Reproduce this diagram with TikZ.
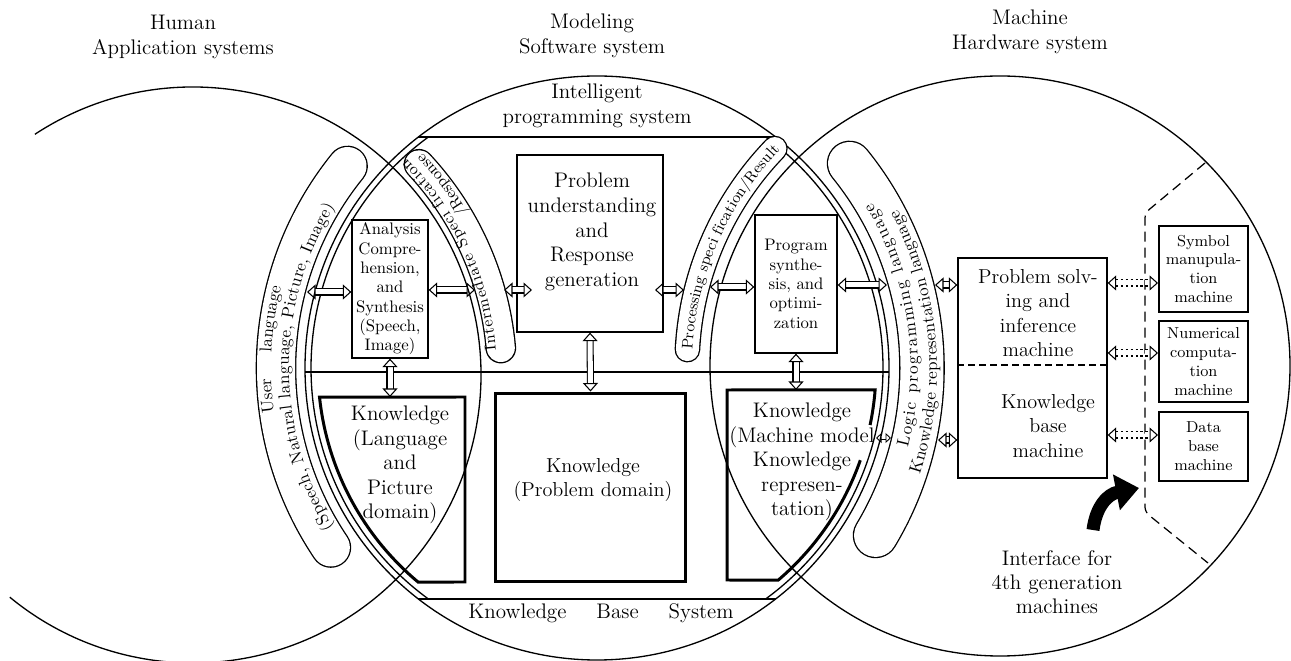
\documentclass[tikz,border=0pt]{standalone}
\usetikzlibrary{positioning,calc,arrows.meta,decorations.text}

\newcommand{\pilltxt}{\fontsize{9.8}{12}\selectfont}
\newcommand{\pillsmall}{\fontsize{9}{11}\selectfont}
\newcommand{\pilltiny}{\fontsize{8.8}{10}\selectfont}

\begin{document}
\begin{tikzpicture}[x=0.02cm, y=-0.02cm, line width=0.75pt,
    ttl/.style={align=center, font=\fontsize{12}{14.5}\selectfont},
    prbox/.style={rectangle, draw, line width=0.75pt, inner sep=0pt, align=center,
                  font=\fontsize{9.5}{11}\selectfont},
    mbox/.style={rectangle, draw, line width=1.1pt, inner sep=0pt, align=center,
                 minimum width=17.8mm, font=\fontsize{9}{10.8}\selectfont},
    kbox/.style={rectangle, draw, line width=1.7pt, inner sep=0pt},
    ktxt/.style={align=center, font=\fontsize{12}{14}\selectfont},
    mtxt/.style={align=center, font=\fontsize{11.5}{14}\selectfont},
    kedge/.style={line width=1.7pt},
    pill/.style={double, line width=0.75pt, line cap=round},
    dbl/.style={double, double distance=1mm, line width=0.6pt,
                {Triangle[open, length=1.7mm, width=3mm, line width=0.6pt]}-{Triangle[open, length=1.7mm, width=3mm, line width=0.6pt]}},
    sdbl/.style={double, double distance=0.6mm, line width=0.5pt,
                {Triangle[open, length=1.1mm, width=2mm, line width=0.5pt]}-{Triangle[open, length=1.1mm, width=2mm, line width=0.5pt]}},
    dotdbl/.style={dbl, dash pattern=on 1.4pt off 1.4pt},
    ifcline/.style={dash pattern=on 2mm off 1.2mm, line width=0.7pt, rounded corners=1mm},
    bigarr/.style={line width=2.6mm, -{Triangle[length=4.6mm, width=7mm]}}
]
\useasboundingbox (0,0) rectangle (1291,661);
\clip (0,0) rectangle (1291,661);

\coordinate (lc) at (193,375);
\coordinate (mc) at (597,368);
\coordinate (rc) at (1000,366);

\node[ttl] (hum) at (183,37) {Human\\Application systems};
\node[ttl] (mdl) at (592,36) {Modeling\\Software system};
\node[ttl] (mch) at (1030,32) {Machine\\Hardware system};

\draw ([shift={(236.7:288)}]lc) arc[start angle=236.7, end angle=489.5, radius=288];
\draw (mc) circle[radius=292];
\draw (rc) circle[radius=290];
\draw ([shift={(126.1:286)}]mc) arc[start angle=126.1, end angle=233.9, radius=286];
\draw ([shift={(-53.9:286)}]mc) arc[start angle=-53.9, end angle=53.9, radius=286];
\draw (418,137) -- (776,137);
\draw (418,599) -- (776,599);
\draw (305,372) -- (889,372);

\node[ttl] (ips) at (597,106) {Intelligent\\programming system};
\node[ttl] (kbs) at (601,613) {Knowledge\hspace{6mm}Base\hspace{6mm}System};

\draw[pill, double distance=7.6mm] ([shift={(146:321)}]mc) arc[start angle=146, end angle=219, radius=321];
\draw[pill, double distance=5.6mm] ([shift={(-5:309)}]lc) arc[start angle=-5, end angle=-43, radius=309];
\draw[pill, double distance=4.6mm] ([shift={(183:313)}]rc) arc[start angle=183, end angle=224, radius=313];
\draw[pill, double distance=8.6mm] ([shift={(31:325)}]mc) arc[start angle=31, end angle=-39, radius=325];

\path[decorate, decoration={text along path, text align={fit to path stretching spaces},
        text={|\pilltxt|User language}}]
    ([shift={(172.2:326)}]mc) arc[start angle=172.2, end angle=194.4, radius=326];
\path[decorate, decoration={text along path, text align={fit to path},
        text={|\pilltxt|(Speech, Natural language, Picture, Image)}}]
    ([shift={(148.9:308)}]mc) arc[start angle=148.9, end angle=211.5, radius=308];
\path[decorate, decoration={text along path, text align={fit to path},
        text={|\pillsmall|Intermediate Speci fication}}]
    ([shift={(-4.7:304)}]lc) arc[start angle=-4.7, end angle=-45.4, radius=304];
\path[decorate, decoration={text along path, text align={fit to path},
        text={|\pillsmall|/Response}}]
    ([shift={(-30.6:319)}]lc) arc[start angle=-30.6, end angle=-44, radius=319];
\path[decorate, decoration={text along path, text align={fit to path},
        text={|\pilltiny|Processing speci fication/Result}}]
    ([shift={(183:308)}]rc) arc[start angle=183, end angle=224.5, radius=308];
\path[decorate, decoration={text along path, text align={fit to path},
        text={|\pilltxt|Logic programming language}}]
    ([shift={(14.4:321)}]mc) arc[start angle=14.4, end angle=-31, radius=321];
\path[decorate, decoration={text along path, text align={fit to path},
        text={|\pilltxt|Knowledge representation language}}]
    ([shift={(18.3:340)}]mc) arc[start angle=18.3, end angle=-27.8, radius=340];

\node[prbox, minimum width=15.2mm, minimum height=27.6mm] (ana) at (390,289)
    {Analysis\\Compre-\\hension,\\and\\Synthesis\\(Speech,\\Image)};
\node[prbox, minimum width=29.2mm, minimum height=35.4mm] (pu) at (590,243.5) {};
\node[ktxt] (putxt) at (592,232) {Problem\\understanding\\and\\Response\\generation};
\node[prbox, minimum width=16.4mm, minimum height=27.6mm] (ps) at (796,284)
    {Program\\synthe-\\sis, and\\optimi-\\zation};

\draw[kedge] (465,582) -- (465,397) -- ([shift={(174:279)}]mc)
    arc[start angle=174, end angle=129.9, radius=279] -- cycle;
\node[ktxt] (kltxt) at (400,465) {Knowledge\\(Language\\and\\Picture\\domain)};
\node[kbox, minimum width=38.2mm, minimum height=37.8mm] (kp) at (590.5,487.5) {};
\node[mtxt] (kptxt) at (593,480) {Knowledge\\(Problem domain)};
\draw[kedge] ([shift={(11.8:279)}]mc) arc[start angle=11.8, end angle=4.5, radius=279]
    -- (727,390) -- (727,580) -- ([shift={(49.5:279)}]mc)
    arc[start angle=49.5, end angle=19.3, radius=279];
\node[ktxt] (kmtxt) at (802,462) {Knowledge\\(Machine model\\Knowledge\\represen-\\tation)};

\node[prbox, minimum width=29.8mm, minimum height=44mm] (psm) at (1032.5,368) {};
\draw[dash pattern=on 1.4mm off 0.8mm] ([yshift=0.6mm]psm.west) -- ([yshift=0.6mm]psm.east);
\node[mtxt] (pstxt) at (1038,313) {Problem solv-\\ing and\\inference\\machine};
\node[mtxt] (kbtxt) at (1048,426) {Knowledge\\base\\machine};

\node[mbox, minimum height=17.2mm] (sym) at (1203.5,269) {Symbol\\manupula-\\tion\\machine};
\node[mbox, minimum height=16.2mm, below=1.4mm of sym] (num) {Numerical\\computa-\\tion\\machine};
\node[mbox, minimum height=13.8mm, below=1.6mm of num] (dat) {Data\\base\\machine};

\draw[ifcline] (1205,163) -- (1145,213) -- (1145,512) -- (1208,563);
\draw[bigarr] (1093,530) .. controls (1096,506) and (1108,494) .. (1139,488);
\node[ktxt, font=\fontsize{12}{13.5}\selectfont] (ifc) at (1057,582) {Interface for\\4th generation\\machines};

\coordinate (ulin) at (307,292);
\coordinate (ipin) at (475,290);
\coordinate (ipout) at (504,290);
\coordinate (puin) at (532,290);
\coordinate (puout) at (655,290);
\coordinate (prout) at (684,290);
\coordinate (prin) at (710,287);
\coordinate (lpin) at (887,285);
\coordinate (lpout) at (935,285);
\coordinate (kma) at (876,438);
\coordinate (lpa) at (891,438);
\coordinate (lpb) at (938,440);
\coordinate (klt) at (465,397);
\coordinate (kmt) at (727,390);
\coordinate (lv1) at (0,283);
\coordinate (lv2) at (0,353);
\coordinate (lv3) at (0,435);

\draw[dbl] (ulin) -- (ana.west |- ulin);
\draw[dbl] (ana.east |- ipin) -- (ipin);
\draw[dbl] (ipout) -- (puin);
\draw[dbl] (puout) -- (prout);
\draw[dbl] (prin) -- (ps.west |- prin);
\draw[dbl] (ps.east |- lpin) -- (lpin);
\draw[dbl] (lpout) -- (psm.west |- lpout);
\draw[sdbl] (kma) -- (lpa);
\draw[dbl] (lpb) -- (psm.west |- lpb);
\draw[dbl] (ana.south) -- (ana.south |- klt);
\draw[dbl] (pu.south) -- (kp.north);
\draw[dbl] (ps.south) -- (ps.south |- kmt);
\draw[dotdbl] (psm.east |- lv1) -- (sym.west |- lv1);
\draw[dotdbl] (psm.east |- lv2) -- (num.west |- lv2);
\draw[dotdbl] (psm.east |- lv3) -- (dat.west |- lv3);

\end{tikzpicture}
\end{document}
